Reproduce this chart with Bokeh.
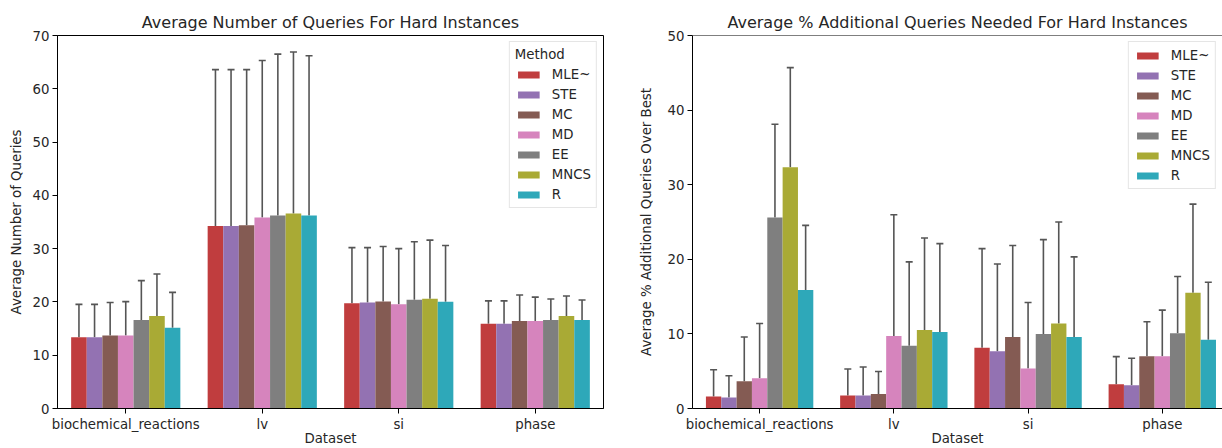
from bokeh.plotting import figure
from bokeh.models import (ColumnDataSource, Range1d, FixedTicker, Whisker, TeeHead,
                          Legend, LegendItem, Span)
from bokeh.layouts import row
from bokeh.embed import file_html
from bokeh.resources import INLINE

datasets = ["biochemical_reactions", "lv", "si", "phase"]
methods = ["MLE~", "STE", "MC", "MD", "EE", "MNCS", "R"]
colors = ["#c03d3e", "#9372b2", "#845b53", "#d684bd", "#7f7f7f", "#a9aa35", "#2ea8b9"]

# Left chart: mean number of queries (rows = methods, cols = datasets)
q_mean = {
    "MLE~": [13.35, 34.27, 19.74, 15.9],
    "STE":  [13.35, 34.27, 19.9, 15.9],
    "MC":   [13.7, 34.4, 20.1, 16.4],
    "MD":   [13.7, 35.84, 19.55, 16.4],
    "EE":   [16.6, 36.2, 20.4, 16.6],
    "MNCS": [17.35, 36.6, 20.6, 17.35],
    "R":    [15.15, 36.2, 20.05, 16.6],
}
q_upper = {
    "MLE~": [19.55, 63.6, 30.2, 20.2],
    "STE":  [19.55, 63.6, 30.2, 20.2],
    "MC":   [19.9, 63.6, 30.4, 21.3],
    "MD":   [20.05, 65.3, 30.0, 20.9],
    "EE":   [24.0, 66.5, 31.3, 20.55],
    "MNCS": [25.25, 66.9, 31.6, 21.1],
    "R":    [21.8, 66.2, 30.6, 20.35],
}
# Right chart: mean % additional queries over best
p_mean = {
    "MLE~": [1.6, 1.74, 8.16, 3.25],
    "STE":  [1.47, 1.74, 7.66, 3.12],
    "MC":   [3.65, 1.96, 9.58, 7.0],
    "MD":   [4.05, 9.71, 5.35, 7.0],
    "EE":   [25.6, 8.42, 9.98, 10.1],
    "MNCS": [32.35, 10.52, 11.4, 15.5],
    "R":    [15.9, 10.25, 9.58, 9.22],
}
p_upper = {
    "MLE~": [5.2, 5.3, 21.43, 6.95],
    "STE":  [4.4, 5.57, 19.38, 6.73],
    "MC":   [9.58, 4.95, 21.84, 11.63],
    "MD":   [11.4, 25.98, 14.2, 13.19],
    "EE":   [38.1, 19.65, 22.64, 17.7],
    "MNCS": [45.7, 22.86, 25.0, 27.4],
    "R":    [24.55, 22.1, 20.32, 16.93],
}

TXT = "#262626"
FONT = "DejaVu Sans"


def make_fig(title, ylabel, means, uppers, ymax, width, bl, br, xend, legend_title, outline, ylab_standoff):
    p = figure(width=width, height=448, output_backend="svg", toolbar_location=None,
               x_range=Range1d(-0.5, xend), y_range=Range1d(0, ymax),
               min_border_left=bl, min_border_right=br, min_border_top=35, min_border_bottom=40,
               background_fill_color="white", border_fill_color="white")
    p.title.text = title
    p.title.align = "center"
    p.title.text_font = FONT
    p.title.text_font_size = "16px"
    p.title.text_font_style = "normal"
    p.title.text_color = TXT
    p.title.standoff = 7
    p.grid.grid_line_color = None
    if outline:
        p.outline_line_color = "black"
        p.outline_line_alpha = 1.0
        p.outline_line_width = 1
    else:
        p.outline_line_color = None
        p.add_layout(Span(location=ymax, dimension="width", line_color="black", line_width=1))

    for ax in (p.xaxis[0], p.yaxis[0]):
        ax.axis_line_color = "black"
        ax.major_tick_line_color = "black"
        ax.major_tick_out = 5
        ax.major_tick_in = 0
        ax.minor_tick_line_color = None
        ax.major_label_text_font = FONT
        ax.major_label_text_font_size = "13.3px"
        ax.major_label_text_color = TXT
        ax.major_label_standoff = 3
        ax.axis_label_text_font = FONT
        ax.axis_label_text_font_size = "13.3px"
        ax.axis_label_text_font_style = "normal"
        ax.axis_label_text_color = TXT

    p.xaxis.ticker = FixedTicker(ticks=list(range(len(datasets))))
    p.xaxis.major_label_overrides = {i: d for i, d in enumerate(datasets)}
    p.xaxis.axis_label = "Dataset"
    p.xaxis.axis_label_standoff = -4
    p.yaxis.ticker = FixedTicker(ticks=list(range(0, ymax + 1, 10)))
    p.yaxis.axis_label = ylabel
    p.yaxis.axis_label_standoff = ylab_standoff

    n = len(methods)
    bw = 0.8 / n
    items = []
    for j, m in enumerate(methods):
        xs = [i - 0.4 + bw * (j + 0.5) for i in range(len(datasets))]
        src = ColumnDataSource(dict(x=xs, top=means[m], upper=uppers[m]))
        r = p.vbar(x="x", top="top", width=bw, source=src, fill_color=colors[j], line_color=None)
        items.append(LegendItem(label=m, renderers=[r]))
        w = Whisker(base="x", lower="top", upper="upper", source=src, dimension="height",
                    line_color="#555555", line_width=1.6,
                    upper_head=TeeHead(size=7, line_color="#555555", line_width=1.6),
                    lower_head=None)
        p.add_layout(w)

    leg = Legend(items=items, location="top_right")
    if legend_title:
        leg.title = legend_title
        leg.title_text_font = FONT
        leg.title_text_font_size = "13.3px"
        leg.title_text_font_style = "normal"
        leg.title_text_color = TXT
        leg.title_standoff = 4
    leg.label_text_font = FONT
    leg.label_text_font_size = "13.3px"
    leg.label_text_color = TXT
    leg.glyph_width = 27
    leg.glyph_height = 9
    leg.label_height = 16
    leg.label_standoff = 10
    leg.spacing = 4
    leg.padding = 5
    leg.margin = 6
    leg.border_line_color = "#cccccc"
    leg.border_line_width = 1
    leg.background_fill_color = "white"
    leg.background_fill_alpha = 0.8
    p.add_layout(leg)
    return p


p1 = make_fig("Average Number of Queries For Hard Instances", "Average Number of Queries",
              q_mean, q_upper, 70, 635, 57, 32, 3.5, "Method", True, 6)
p2 = make_fig("Average % Additional Queries Needed For Hard Instances",
              "Average % Additional Queries Over Best",
              p_mean, p_upper, 50, 587, 50, 0, -0.5 + 537 / 136.0, None, False, 11)

layout = row(p1, p2)
open("out.html", "w").write(file_html(layout, INLINE))
